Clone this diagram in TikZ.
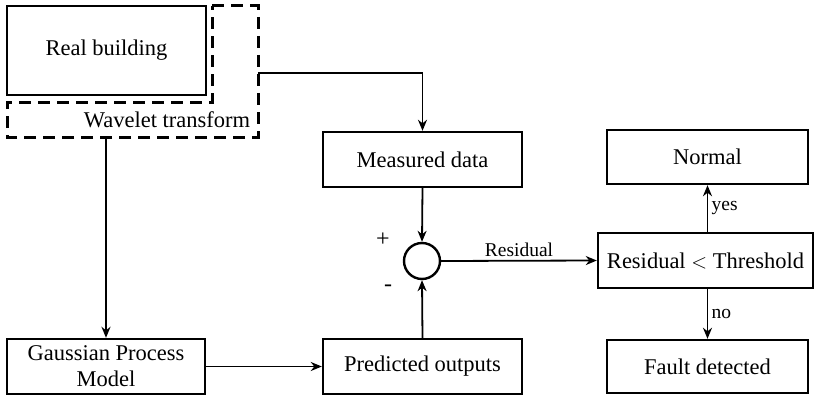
\documentclass[tikz,border=0pt]{standalone}
\usepackage{fontspec}
\setmainfont{Liberation Serif}
\usepackage{tikz}
\usetikzlibrary{arrows.meta}

\tikzset{
  block/.style={draw,line width=2.4pt,rectangle,inner sep=0pt,font=\fontsize{22.5}{24}\selectfont},
  sumnode/.style={draw,line width=2.4pt,circle,minimum size=36pt,inner sep=0pt},
  lbl/.style={font=\fontsize{19.5}{21}\selectfont},
}

\begin{document}
\begin{tikzpicture}[x=1pt,y=-1pt,>={Stealth[length=11pt,width=9pt,inset=3.5pt]},line width=1.8pt]
  \useasboundingbox (0,0) rectangle (817,396);
  \node[block,minimum width=199pt,minimum height=89pt] at (106.5,50.5) (real) {Real building};
  \node[block,minimum width=199pt,minimum height=55pt] at (422.5,159.5) (meas) {Measured data};
  \node[sumnode] at (422,261) (sum) {};
  \node[block,minimum width=199pt,minimum height=55pt] at (422.5,366.5) (pred) {Predicted outputs};
  \node[block,minimum width=198pt,minimum height=55pt,align=center,font=\fontsize{22.5}{26}\selectfont] at (106,366.5) (gp) {Gaussian Process\\Model};
  \node[block,minimum width=215pt,minimum height=55pt] at (705.5,260.5) (thresh) {Residual $<$ Threshold};
  \node[block,minimum width=201pt,minimum height=54pt] at (707.5,157) (normal) {Normal};
  \node[block,minimum width=201pt,minimum height=53pt] at (707.5,366.5) (fault) {Fault detected};
  % wavelet transform (dashed)
  \draw[line width=3pt,dash pattern=on 12pt off 7pt] (212,6) -- (258,6) -- (258,137) -- (7,137) -- (7,102) -- (212,102) -- cycle;
  \node[block,draw=none] at (167,120) (wavelet) {Wavelet transform};
  \coordinate (wt-east) at (258,73);
  \coordinate (wt-south) at (106,137);
  \node[font=\fontsize{24}{26}\selectfont] at (383,240) (plus) {+};
  \node[font=\fontsize{24}{26}\selectfont] at (388,288) (minus) {-};
  \draw[->] (wt-east) -| (meas.north);
  \draw[->] (wt-south) -- (gp.north);
  \draw[->] (gp.east) -- (pred.west);
  \draw[->] (meas.south) -- (sum.north);
  \draw[->] (pred.north) -- (sum.south);
  \draw[->] (sum.east) -- node[lbl,above] (res) {Residual} (thresh.west);
  \draw[->] (thresh.north -| normal.south) -- node[lbl,right] (yes) {yes} (normal.south);
  \draw[->] (thresh.south -| fault.north) -- node[lbl,right] (no) {no} (fault.north);
\end{tikzpicture}
\end{document}
